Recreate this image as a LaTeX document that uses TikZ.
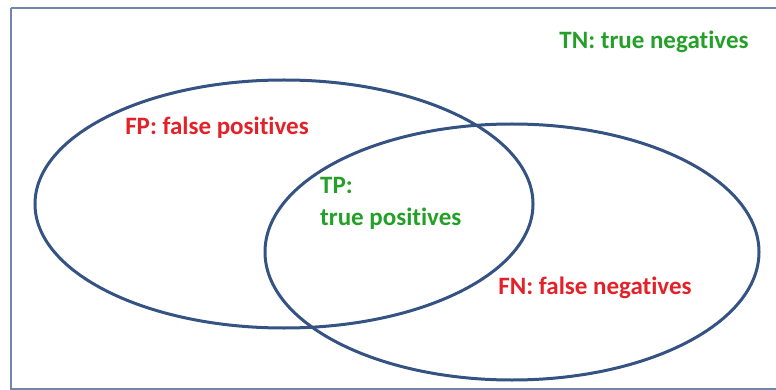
\documentclass[tikz,border=0pt]{standalone}
\usepackage{fontspec}
\setmainfont[Ligatures=NoCommon]{Carlito}
\usetikzlibrary{shapes.geometric}
\definecolor{setblue}{RGB}{52,82,130}
\definecolor{labred}{RGB}{228,32,40}
\definecolor{labgreen}{RGB}{36,160,40}

\begin{document}
\begin{tikzpicture}[x=1pt,y=-1pt]
		\tikzstyle{SetStyle}=[draw=setblue,line width=3pt,ellipse,inner sep=0pt]
		\tikzstyle{LabelStyle}=[font=\fontsize{25}{32}\selectfont\bfseries,inner sep=0pt]
		\useasboundingbox (0,0) rectangle (776,390);
		% frame of all cases
		\draw[setblue!70,line width=2.6pt] (11,8) -- (790,8);
		\draw[setblue!70,line width=2.6pt] (11,8) -- (11,389) -- (790,389);
		\node[SetStyle,minimum width=498pt,minimum height=248pt] (pred) at (284,204) {};
		\node[SetStyle,minimum width=494pt,minimum height=256pt] (act) at (512,252) {};
		\node[LabelStyle,text=labgreen] (TN) at (654,42) {TN: true negatives};
		\node[LabelStyle,text=labred] (FP) at (217,128) {FP: false positives};
		\node[LabelStyle,text=labgreen,align=left,anchor=north west] (TP) at (320,177) {TP:\\true positives};
		\node[LabelStyle,text=labred] (FN) at (595,288) {FN: false negatives};
	\end{tikzpicture}
\end{document}
